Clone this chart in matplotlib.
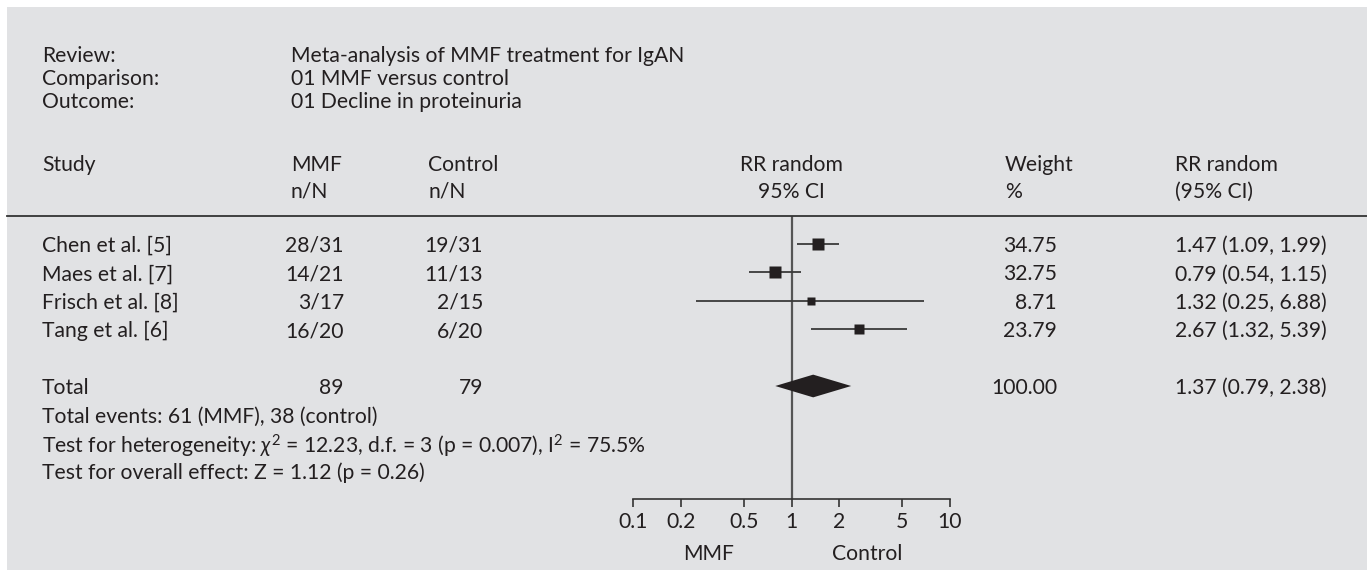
import matplotlib
matplotlib.use('Agg')
import matplotlib.pyplot as plt
import matplotlib.transforms as mtransforms
from matplotlib.patches import Rectangle, Polygon
from matplotlib.lines import Line2D
from matplotlib.ticker import NullLocator

# data
studies = ['Chen et al. [5]', 'Maes et al. [7]', 'Frisch et al. [8]', 'Tang et al. [6]']
mmf_events = ['28/31', '14/21', '3/17', '16/20']
ctrl_events = ['19/31', '11/13', '2/15', '6/20']
rr = [1.47, 0.79, 1.32, 2.67]
ci_lo = [1.09, 0.54, 0.25, 1.32]
ci_hi = [1.99, 1.15, 6.88, 5.39]
weights = [34.75, 32.75, 8.71, 23.79]
total_mmf, total_ctrl = 89, 79
total_rr, total_lo, total_hi = 1.37, 0.79, 2.38
total_weight = 100.00
ticks = [0.1, 0.2, 0.5, 1, 2, 5, 10]
tick_labels = ['0.1', '0.2', '0.5', '1', '2', '5', '10']

header_info = [('Review:', 'Meta-analysis of MMF treatment for IgAN'),
               ('Comparison:', '01 MMF versus control'),
               ('Outcome:', '01 Decline in proteinuria')]
stats_lines = ['Total events: 61 (MMF), 38 (control)',
               r'Test for heterogeneity: $\chi^2$ = 12.23, d.f. = 3 (p = 0.007), I$^2$ = 75.5%',
               'Test for overall effect: Z = 1.12 (p = 0.26)']

W, H = 1367, 570
TXT = '#231f20'
plt.rcParams['font.family'] = ['Lato', 'DejaVu Sans']
plt.rcParams['mathtext.fontset'] = 'custom'
plt.rcParams['mathtext.rm'] = 'Lato'
plt.rcParams['mathtext.it'] = 'Lato:italic'
FS = 15.2


def fx(px):
    return px / W


def fy(py):
    return 1 - py / H


fig = plt.figure(figsize=(W / 100, H / 100), dpi=100)
fig.add_artist(Rectangle((fx(7), 0), 1 - fx(7), fy(7), transform=fig.transFigure,
                         facecolor='#e1e2e4', edgecolor='none', zorder=-5))

# forest panel: 0.1 -> x=633px, 10 -> x=950px, rows 28.4px apart starting at 244px
row0, step = 244, 28.4
ax = fig.add_axes([fx(633), fy(499), fx(950) - fx(633), (499 - 216) / H])
ax.set_facecolor('none')
ax.set_xscale('log')
ax.set_xlim(0.1, 10)
ax.set_ylim((499 - row0) / step, (216 - row0) / step)
for s in ['top', 'left', 'right']:
    ax.spines[s].set_visible(False)
ax.spines['bottom'].set_color('#333333')
ax.spines['bottom'].set_linewidth(1.2)
ax.set_yticks([])
ax.set_xticks(ticks)
ax.set_xticklabels(tick_labels)
ax.xaxis.set_minor_locator(NullLocator())
ax.tick_params(axis='x', direction='out', length=6, width=1.2, color='#333333',
               labelsize=FS, labelcolor=TXT, pad=3)

ax.axvline(1, color='#555555', lw=1.6, zorder=1)
rows = list(range(len(studies)))
ax.hlines(rows, ci_lo, ci_hi, color='#3a3a3a', lw=1.3, zorder=2)
for i, (r, w) in enumerate(zip(rr, weights)):
    side = (6 + w ** 0.5) * 0.72
    ax.plot(r, i, marker='s', ms=side, color='#231f20', mec='none', zorder=3)

total_row = 5
dh = 0.4
ax.add_patch(Polygon([(total_lo, total_row), (total_rr, total_row - dh),
                      (total_hi, total_row), (total_rr, total_row + dh)],
                     closed=True, facecolor='#231f20', edgecolor='none', zorder=3))

# separator line
fig.add_artist(Line2D([fx(7), 1], [fy(216), fy(216)], transform=fig.transFigure,
                      color='#333333', lw=1.3))

kw = dict(fontsize=FS, color=TXT, va='center_baseline')

# header block
for k, (lab, val) in enumerate(header_info):
    y = fy(54 + 23 * k)
    fig.text(fx(42), y, lab, **kw)
    fig.text(fx(291), y, val, **kw)

fig.text(fx(42), fy(163), 'Study', **kw)
fig.text(fx(291), fy(163), 'MMF', **kw)
fig.text(fx(291), fy(190), 'n/N', **kw)
fig.text(fx(428), fy(163), 'Control', **kw)
fig.text(fx(428), fy(190), 'n/N', **kw)
fig.text(fx(791), fy(163), 'RR random', ha='center', **kw)
fig.text(fx(791), fy(190), '95% CI', ha='center', **kw)
fig.text(fx(1005), fy(163), 'Weight', **kw)
fig.text(fx(1005), fy(190), '%', **kw)
fig.text(fx(1175), fy(163), 'RR random', **kw)
fig.text(fx(1175), fy(190), '(95% CI)', **kw)

trans = mtransforms.blended_transform_factory(fig.transFigure, ax.transData)
for i in rows:
    fig.text(fx(42), i, studies[i], transform=trans, **kw)
    fig.text(fx(344), i, mmf_events[i], transform=trans, ha='right', **kw)
    fig.text(fx(483), i, ctrl_events[i], transform=trans, ha='right', **kw)
    fig.text(fx(1057), i, f'{weights[i]:.2f}', transform=trans, ha='right', **kw)
    fig.text(fx(1175), i, f'{rr[i]:.2f} ({ci_lo[i]:.2f}, {ci_hi[i]:.2f})', transform=trans, **kw)

fig.text(fx(42), total_row, 'Total', transform=trans, **kw)
fig.text(fx(344), total_row, str(total_mmf), transform=trans, ha='right', **kw)
fig.text(fx(483), total_row, str(total_ctrl), transform=trans, ha='right', **kw)
fig.text(fx(1057), total_row, f'{total_weight:.2f}', transform=trans, ha='right', **kw)
fig.text(fx(1175), total_row, f'{total_rr:.2f} ({total_lo:.2f}, {total_hi:.2f})',
         transform=trans, **kw)

for k, line in enumerate(stats_lines):
    fig.text(fx(42), total_row + 1 + k, line, transform=trans, **kw)

trans2 = mtransforms.blended_transform_factory(ax.transData, fig.transFigure)
ax.text(0.3, fy(552), 'MMF', transform=trans2, ha='center', **kw)
ax.text(3, fy(552), 'Control', transform=trans2, ha='center', **kw)

fig.savefig('out.png', dpi=100)
